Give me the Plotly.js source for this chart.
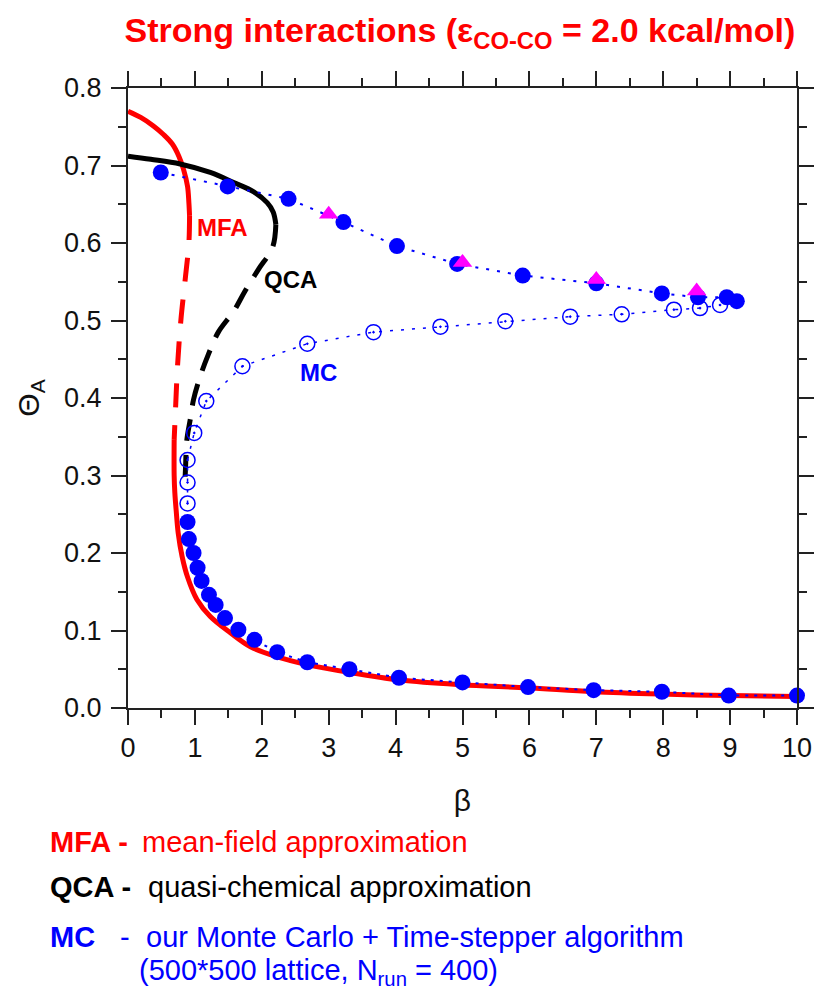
<!DOCTYPE html>
<html><head><meta charset="utf-8">
<script src="https://cdn.plot.ly/plotly-3.0.1.min.js"></script>
<style>body{margin:0;background:#fff}</style>
</head><body><div id="chart" style="width:816px;height:997px"></div>
<script>
// MFA (mean-field approximation) branches
const mfaUpperX = [0, 0.19, 0.38, 0.53, 0.66, 0.76, 0.83, 0.89, 0.91, 0.92];
const mfaUpperY = [0.770, 0.762, 0.751, 0.740, 0.728, 0.712, 0.695, 0.673, 0.652, 0.635];
const mfaMidX = [0.92, 0.91, 0.86, 0.79, 0.74, 0.71, 0.69];
const mfaMidY = [0.635, 0.600, 0.557, 0.500, 0.441, 0.385, 0.346];
const mfaLowerX = [0.69, 0.69, 0.70, 0.72, 0.75, 0.81, 0.89, 1.03, 1.23, 1.53, 1.83, 2.23, 2.68, 3.30, 4.07, 4.97, 5.97, 6.95, 7.95, 9.0, 10];
const mfaLowerY = [0.346, 0.300, 0.278, 0.255, 0.226, 0.195, 0.169, 0.140, 0.118, 0.097, 0.079, 0.066, 0.056, 0.046, 0.036, 0.030, 0.026, 0.021, 0.018, 0.016, 0.015];
// QCA (quasi-chemical approximation) branches
const qcaUpperX = [0, 0.34, 0.78, 1.23, 1.58, 1.88, 2.08, 2.17, 2.21];
const qcaUpperY = [0.712, 0.708, 0.702, 0.691, 0.678, 0.666, 0.652, 0.640, 0.624];
const qcaMidX = [2.21, 2.16, 1.95, 1.75, 1.58, 1.35, 1.20, 1.08, 0.98, 0.93, 0.88, 0.86, 0.85];
const qcaMidY = [0.624, 0.594, 0.566, 0.538, 0.512, 0.485, 0.456, 0.428, 0.398, 0.372, 0.346, 0.310, 0.290];
// MC results
const mcUpperX = [0.49, 1.49, 2.40, 3.22, 4.02, 4.92, 5.90, 7.0, 7.98, 8.52, 8.95, 9.10];
const mcUpperY = [0.691, 0.673, 0.657, 0.627, 0.596, 0.573, 0.558, 0.548, 0.535, 0.530, 0.530, 0.525];
const mcOpenX = [0.89, 0.89, 0.89, 0.99, 1.17, 1.71, 2.68, 3.67, 4.67, 5.64, 6.61, 7.38, 8.16, 8.55, 8.85];
const mcOpenY = [0.264, 0.291, 0.320, 0.355, 0.396, 0.441, 0.470, 0.485, 0.492, 0.499, 0.505, 0.508, 0.514, 0.516, 0.520];
const mcLowerX = [0.89, 0.91, 0.98, 1.04, 1.10, 1.21, 1.31, 1.45, 1.65, 1.89, 2.23, 2.68, 3.31, 4.05, 5.0, 5.98, 6.96, 7.98, 8.98, 10.0];
const mcLowerY = [0.240, 0.218, 0.200, 0.181, 0.164, 0.146, 0.133, 0.116, 0.101, 0.088, 0.072, 0.059, 0.050, 0.039, 0.033, 0.027, 0.023, 0.021, 0.016, 0.016];
const triX = [3.0, 5.0, 7.0, 8.5];
const triY = [0.637, 0.575, 0.553, 0.538];
// tick labels
const xTicks = [0,1,2,3,4,5,6,7,8,9,10];
const yTicks = [0,0.1,0.2,0.3,0.4,0.5,0.6,0.7,0.8];
const yTickText = ['0.0','0.1','0.2','0.3','0.4','0.5','0.6','0.7','0.8'];

const RED = '#ff0000', BLUE = '#0000ff', BLK = '#000000', MAG = '#ff00ff';
const FONT = 'Liberation Sans, Arial, Helvetica, sans-serif';

const traces = [
  {x: mfaUpperX, y: mfaUpperY, mode: 'lines', line: {color: RED, width: 5, shape: 'spline'}},
  {x: mfaMidX, y: mfaMidY, mode: 'lines', line: {color: RED, width: 5, dash: '24px,18px', shape: 'spline'}},
  {x: mfaLowerX, y: mfaLowerY, mode: 'lines', line: {color: RED, width: 5, shape: 'spline'}},
  {x: qcaUpperX, y: qcaUpperY, mode: 'lines', line: {color: BLK, width: 5, shape: 'spline'}},
  {x: qcaMidX, y: qcaMidY, mode: 'lines', line: {color: BLK, width: 5, dash: '22px,14px', shape: 'spline'}},
  {x: mcOpenX, y: mcOpenY, mode: 'lines+markers', cliponaxis: false,
   line: {color: BLUE, width: 1.5, dash: '3px,8px'},
   marker: {symbol: 'circle-open-dot', size: 15, color: BLUE, line: {width: 1.5, color: BLUE}}},
  {x: mcLowerX, y: mcLowerY, mode: 'lines+markers', cliponaxis: false,
   line: {color: BLUE, width: 2, dash: '3px,6px'},
   marker: {symbol: 'circle', size: 16, color: BLUE}},
  {x: mcUpperX, y: mcUpperY, mode: 'lines+markers', cliponaxis: false,
   line: {color: BLUE, width: 2, dash: '3px,8px'},
   marker: {symbol: 'circle', size: 16, color: BLUE}},
  {x: triX, y: triY, mode: 'markers', cliponaxis: false,
   marker: {symbol: 'triangle-up', size: 17, color: MAG}}
];

const W = 816, H = 997, L = 128, R = 19, T = 88, B = 289;
const pw = W - L - R, ph = H - T - B;
function px(x) { return (x - L) / pw; }
function py(y) { return (H - B - y) / ph; }

const LF = 29;
const annotations = [
  {x: 1.41, y: 0.620, xref: 'x', yref: 'y', text: '<b>MFA</b>', showarrow: false, font: {family: FONT, size: 24, color: RED}},
  {x: 2.43, y: 0.553, xref: 'x', yref: 'y', text: '<b>QCA</b>', showarrow: false, font: {family: FONT, size: 24, color: BLK}},
  {x: 2.85, y: 0.433, xref: 'x', yref: 'y', text: '<b>MC</b>', showarrow: false, font: {family: FONT, size: 24, color: BLUE}},
  {x: px(48), y: py(842), xref: 'paper', yref: 'paper', xanchor: 'left', yanchor: 'middle', text: '<b>MFA -</b>', showarrow: false, font: {family: FONT, size: LF, color: RED}},
  {x: px(140), y: py(842), xref: 'paper', yref: 'paper', xanchor: 'left', yanchor: 'middle', text: 'mean-field approximation', showarrow: false, font: {family: FONT, size: LF, color: RED}},
  {x: px(48), y: py(887), xref: 'paper', yref: 'paper', xanchor: 'left', yanchor: 'middle', text: '<b>QCA -</b>', showarrow: false, font: {family: FONT, size: LF, color: BLK}},
  {x: px(146), y: py(887), xref: 'paper', yref: 'paper', xanchor: 'left', yanchor: 'middle', text: 'quasi-chemical approximation', showarrow: false, font: {family: FONT, size: LF, color: BLK}},
  {x: px(48), y: py(937), xref: 'paper', yref: 'paper', xanchor: 'left', yanchor: 'middle', text: '<b>MC</b>', showarrow: false, font: {family: FONT, size: LF, color: BLUE}},
  {x: px(118), y: py(937), xref: 'paper', yref: 'paper', xanchor: 'left', yanchor: 'middle', text: '-', showarrow: false, font: {family: FONT, size: LF, color: BLUE}},
  {x: px(144), y: py(937), xref: 'paper', yref: 'paper', xanchor: 'left', yanchor: 'middle', text: 'our Monte Carlo + Time-stepper algorithm', showarrow: false, font: {family: FONT, size: LF, color: BLUE}},
  {x: px(137), y: py(972), xref: 'paper', yref: 'paper', xanchor: 'left', yanchor: 'middle', text: '(500*500 lattice, N<sub>run</sub> = 400)', showarrow: false, font: {family: FONT, size: LF, color: BLUE}}
];

const axisCommon = {
  showline: true, linecolor: '#222', linewidth: 2, mirror: 'allticks',
  ticks: 'outside', ticklen: 15, tickwidth: 2, tickcolor: '#222',
  showgrid: false, zeroline: false, fixedrange: true,
  tickfont: {family: FONT, size: 27, color: '#111'}
};

const layout = {
  width: W, height: H,
  margin: {l: L, r: R, t: T, b: B},
  paper_bgcolor: '#fff', plot_bgcolor: '#fff',
  showlegend: false,
  title: {text: '<b>Strong interactions (ε<sub>CO-CO</sub> = 2.0 kcal/mol)</b>', x: 460 / W, xanchor: 'center', y: 1 - 30 / H, yanchor: 'middle',
          font: {family: FONT, size: 34, color: RED}},
  xaxis: Object.assign({}, axisCommon, {
    range: [0, 10], tickvals: xTicks, ticktext: xTicks.map(String),
    minor: {dtick: 0.5, ticks: 'outside', ticklen: 8, tickwidth: 2, tickcolor: '#222'},
    title: {text: 'β', font: {family: FONT, size: 30, color: '#111'}, standoff: 28}
  }),
  yaxis: Object.assign({}, axisCommon, {
    range: [0, 0.8], tickvals: yTicks, ticktext: yTickText,
    ticklabelstandoff: 4,
    minor: {dtick: 0.05, ticks: 'outside', ticklen: 8, tickwidth: 2, tickcolor: '#222'},
    title: {text: 'Θ<sub>A</sub>', font: {family: FONT, size: 30, color: '#111'}, standoff: 16}
  }),
  annotations: annotations
};

Plotly.newPlot('chart', traces, layout, {displayModeBar: false, staticPlot: true});
</script>
</body></html>
